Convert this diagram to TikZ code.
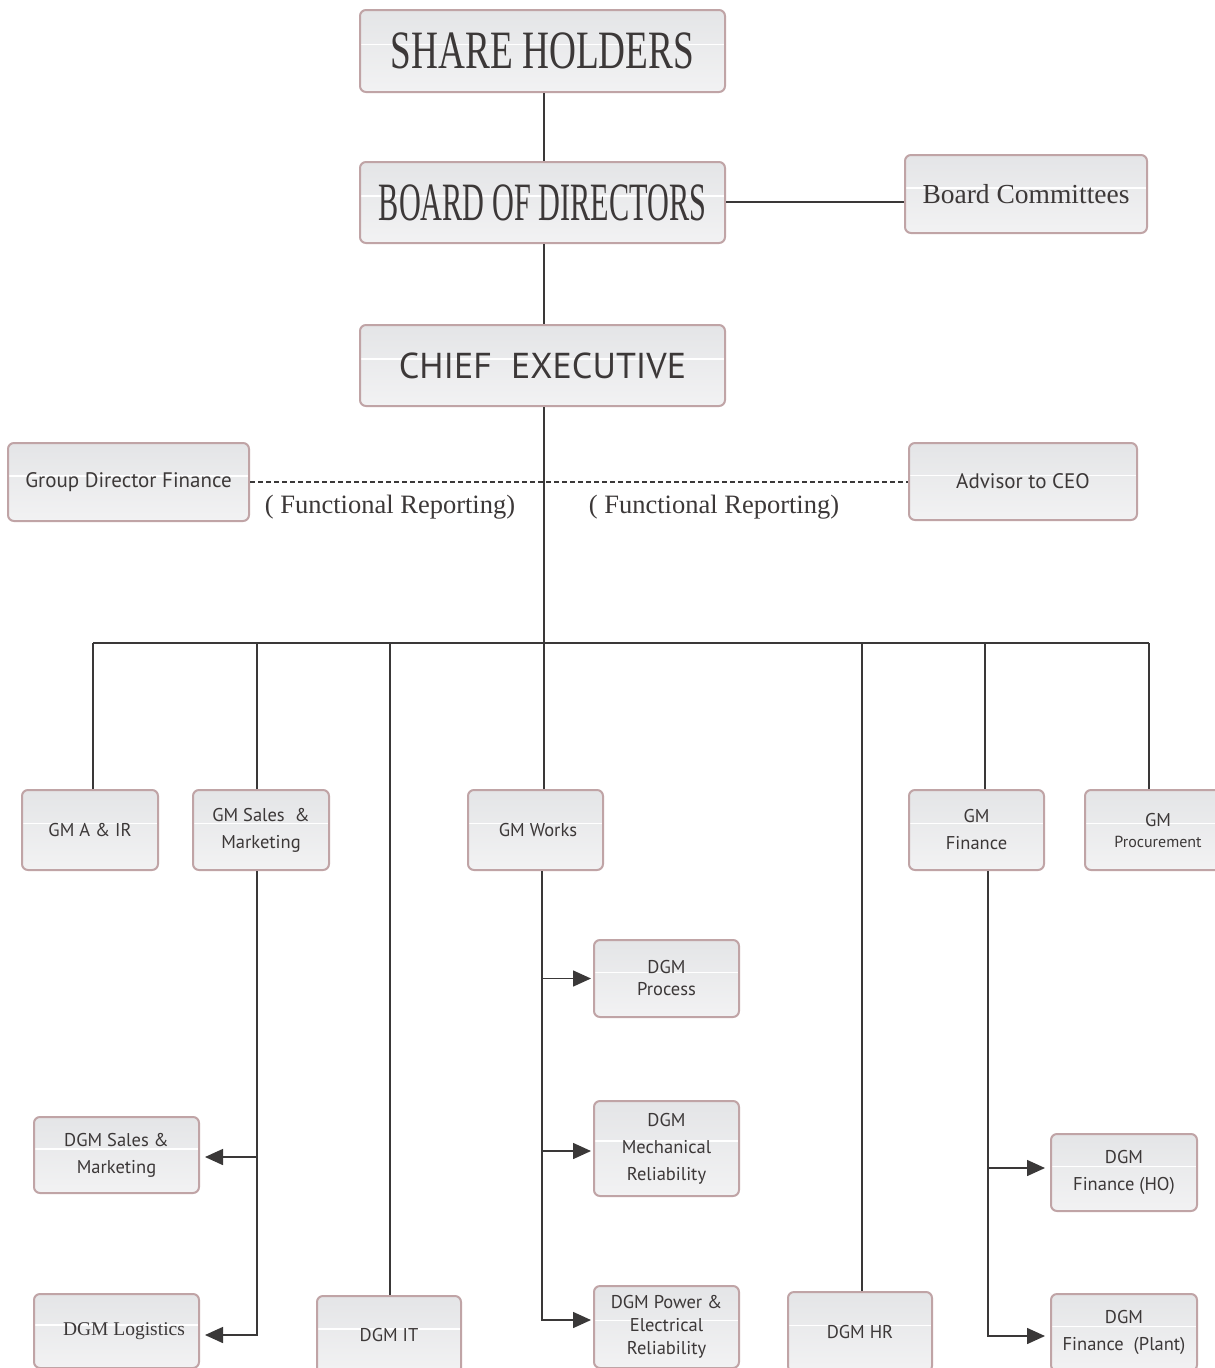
\documentclass[tikz,border=0pt]{standalone}
\usepackage{fontspec}
\setmainfont{Liberation Serif}
\setsansfont{PT Sans}
\newfontfamily\sharefont[FakeStretch=0.69]{Liberation Serif}
\newfontfamily\boardfont[FakeStretch=0.56]{Liberation Serif}
\usetikzlibrary{arrows.meta, calc}
\definecolor{ink}{RGB}{60,56,56}
\definecolor{wire}{RGB}{58,56,56}
\definecolor{rim}{RGB}{192,164,166}
\definecolor{shadetop}{RGB}{228,229,231}
\definecolor{shadebot}{RGB}{242,242,243}
\begin{document}
\begin{tikzpicture}[
  x = 1pt, y = -1pt,
  color = wire,
  line width = 1.5pt,
  box/.style = {
    draw = rim,
    line width = 2pt,
    rounded corners = 6pt,
    top color = shadetop,
    bottom color = shadebot,
    text = ink,
    inner sep = 0pt,
    align = center,
    path picture = {
      \draw[white, line width = 1.5pt]
        ($(path picture bounding box.south west)!0.58!(path picture bounding box.north west)$) --
        ($(path picture bounding box.south east)!0.58!(path picture bounding box.north east)$);
    }
  },
  small/.style = {
    box,
    font = {\sffamily\fontsize{18.5}{27}\selectfont}
  },
  arr/.style = {
    -{Triangle[length = 18pt, width = 16pt]}
  }
]
  \useasboundingbox (0,0) rectangle (1215,1368);
  \clip (0,0) rectangle (1215,1368);
  \fill[white] (0,0) rectangle (1215,1368);

  \node[box, minimum width = 365pt, minimum height = 82pt, font = {\sharefont\fontsize{54}{54}\selectfont}] (sh) at (542.5, 51) {SHARE HOLDERS};
  \node[box, minimum width = 365pt, minimum height = 81pt, font = {\boardfont\fontsize{54}{54}\selectfont}] (bod) at (542.5, 202.5) {BOARD OF DIRECTORS};
  \node[box, minimum width = 242pt, minimum height = 78pt, font = {\rmfamily\fontsize{27.5}{30}\selectfont}] (bc) at (1026, 194) {Board Committees};
  \node[box, minimum width = 365pt, minimum height = 81pt, font = {\sffamily\fontsize{36}{40}\selectfont}] (ceo) at (542.5, 365.5) {CHIEF\ \ EXECUTIVE};

  \node[box, minimum width = 241pt, minimum height = 78pt, font = {\sffamily\fontsize{21}{25}\selectfont}] (gdf) at (128.5, 482) {Group Director Finance};
  \node[box, minimum width = 228pt, minimum height = 77pt, font = {\sffamily\fontsize{21}{25}\selectfont}] (adv) at (1023, 481.5) {Advisor to CEO};
  \node[text = ink, font = {\rmfamily\fontsize{26.5}{30}\selectfont}] (fr1) at (390, 507) {( Functional Reporting)};
  \node[text = ink, font = {\rmfamily\fontsize{26.5}{30}\selectfont}] (fr2) at (714, 507) {( Functional Reporting)};

  \node[small, minimum width = 136pt, minimum height = 80pt] (gmair) at (90, 830) {GM A \& IR};
  \node[small, minimum width = 136pt, minimum height = 80pt] (gmsm) at (261, 830) {GM\ Sales\ \ \&\\Marketing};
  \node[small, minimum width = 135pt, minimum height = 80pt] (gmwk) at (535.5, 830) {\hspace*{5pt}GM Works};
  \node[small, minimum width = 135pt, minimum height = 80pt] (gmfin) at (976.5, 830) {GM\\Finance};
  \node[small, minimum width = 146pt, minimum height = 80pt, font = {\sffamily\fontsize{18.5}{21}\selectfont}] (gmproc) at (1158, 830) {GM\\{\fontsize{16}{21}\selectfont Procurement}};

  \node[small, minimum width = 145pt, minimum height = 77pt, font = {\sffamily\fontsize{18.5}{22}\selectfont}] (dgmproc) at (666.5, 978.5) {DGM\\Process};
  \node[small, minimum width = 145pt, minimum height = 95pt] (dgmmech) at (666.5, 1148.5) {DGM\\Mechanical\\Reliability};
  \node[small, minimum width = 145pt, minimum height = 82pt, font = {\sffamily\fontsize{18.5}{23}\selectfont}] (dgmpow) at (666.5, 1327) {DGM Power \&\\Electrical\\Reliability};

  \node[small, minimum width = 165pt, minimum height = 76pt] (dgmsm) at (116.5, 1155) {DGM Sales \&\\Marketing};
  \node[box, minimum width = 165pt, minimum height = 74pt, font = {\rmfamily\fontsize{19.5}{22}\selectfont}] (dgmlog) at (116.5, 1331) {\hspace*{15pt}DGM Logistics};
  \node[small, minimum width = 144pt, minimum height = 78pt] (dgmit) at (389, 1335) {DGM IT};
  \node[small, minimum width = 144pt, minimum height = 80pt] (dgmhr) at (860, 1332) {DGM HR};
  \node[small, minimum width = 146pt, minimum height = 77pt] (dgmfho) at (1124, 1172.5) {DGM\\Finance (HO)};
  \node[small, minimum width = 146pt, minimum height = 77pt] (dgmfpl) at (1124, 1332.5) {DGM\\Finance\ \ (Plant)};

  \draw ([xshift = 1.5pt]sh.south) -- ([xshift = 1.5pt]bod.north);
  \draw ([xshift = 1.5pt]bod.south) -- ([xshift = 1.5pt]ceo.north);
  \draw ([yshift = 0.5pt]bod.east) -- ([yshift = 0.5pt]bod.east -| bc.west);
  \draw[dash pattern = on 5pt off 3pt] (gdf.east) -- (gdf.east -| adv.west);

  \coordinate (bus) at (544, 643);
  \draw ([xshift = 1.5pt]ceo.south) -- (bus);
  \coordinate (busL) at ([xshift = 3pt]gmair.north |- bus);
  \coordinate (busR) at ([xshift = -9pt]gmproc.north |- bus);
  \draw (busL) -- (busR);
  \foreach \n/\dx in {gmair/3, gmsm/-4, dgmit/1, gmwk/8.5, dgmhr/2, gmfin/8.5, gmproc/-9}
    \draw ([xshift = \dx pt]\n.north) -- ([xshift = \dx pt]\n.north |- bus);

  % arrow end points
  \coordinate (inlog) at ([yshift = -4pt]dgmlog.east);
  \coordinate (insm) at ([yshift = -2pt]dgmsm.east);
  \coordinate (inpow) at ([yshift = 7pt]dgmpow.west);
  \coordinate (inmech) at ([yshift = -2.5pt]dgmmech.west);
  \coordinate (infpl) at ([yshift = -3.5pt]dgmfpl.west);
  \coordinate (infho) at ([yshift = 4.5pt]dgmfho.west);

  \coordinate (sm) at ([xshift = -4pt]gmsm.south);
  \draw[arr, shorten > = 5pt] (sm) |- (inlog);
  \draw[arr, shorten > = 5pt] (sm |- insm) -- (insm);

  \coordinate (wk) at ([xshift = 6.5pt]gmwk.south);
  \draw[arr, shorten > = 2pt] (wk) |- (inpow);
  \draw[arr, shorten > = 2pt] (wk |- dgmproc.west) -- (dgmproc.west);
  \draw[arr, shorten > = 2pt] (wk |- inmech) -- (inmech);

  \coordinate (fn) at ([xshift = 11.5pt]gmfin.south);
  \draw[arr, shorten > = 5pt] (fn) |- (infpl);
  \draw[arr, shorten > = 5pt] (fn |- infho) -- (infho);
\end{tikzpicture}
\end{document}
